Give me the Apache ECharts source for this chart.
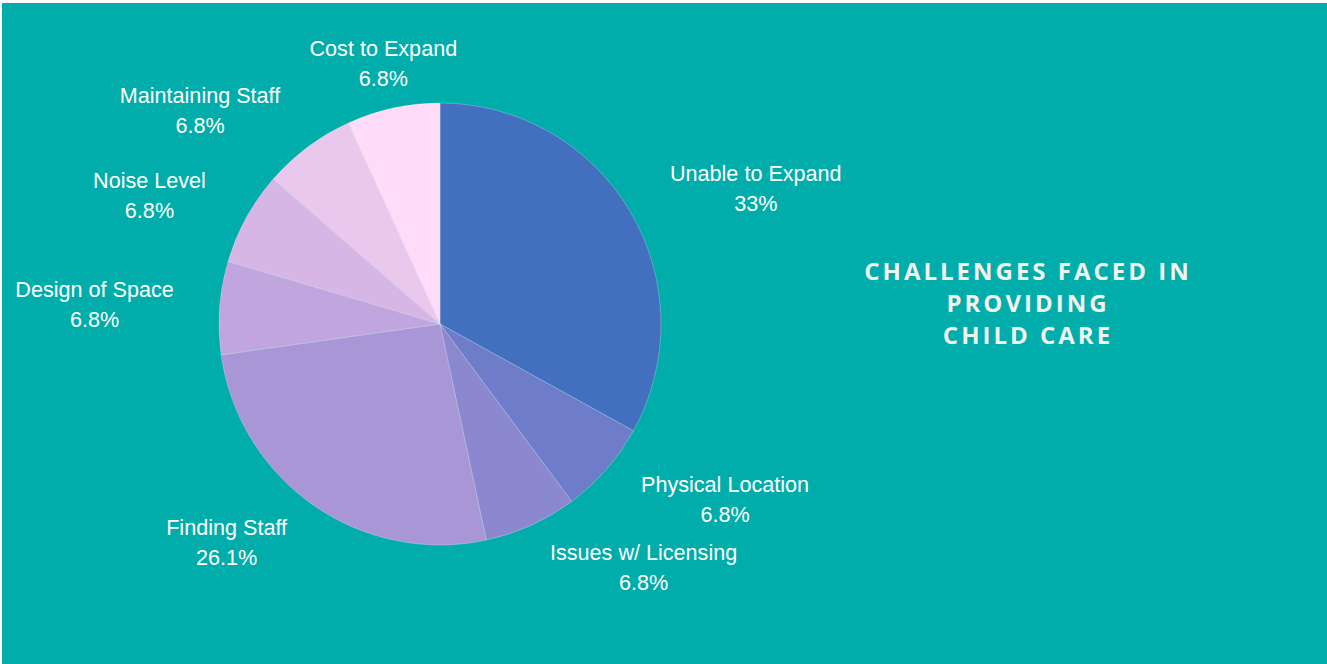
<!DOCTYPE html>
<html>
<head>
<meta charset="utf-8">
<title>Challenges Faced in Providing Child Care</title>
<script src="https://cdn.jsdelivr.net/npm/echarts@6/dist/echarts.min.js"></script>
<style>
  html, body { margin: 0; padding: 0; background: #ffffff; width: 1327px; height: 664px; overflow: hidden; }
  #chart { position: absolute; left: 2px; top: 3px; width: 1325px; height: 661px; }
</style>
</head>
<body>
<div id="chart"></div>
<script>
// Challenge categories, in clockwise order starting at 12 o'clock
const categories = [
  'Unable to Expand',
  'Physical Location',
  'Issues w/ Licensing',
  'Finding Staff',
  'Design of Space',
  'Noise Level',
  'Maintaining Staff',
  'Cost to Expand'
];

// Share of respondents (%) per challenge
const shares = [33, 6.8, 6.8, 26.1, 6.8, 6.8, 6.8, 6.8];

// Slice fills, from deep blue through lavender to pale pink
const sliceColors = [
  '#436FBF', '#6E7CC9', '#8C88D0', '#A996D6',
  '#C1A5DE', '#D7B6E5', '#EAC8EE', '#FEDBF8'
];

const titleLines = ['CHALLENGES FACED IN', 'PROVIDING', 'CHILD CARE'];

// mid-angle of each slice (radians, clockwise from 12 o'clock)
const totalShare = shares.reduce((a, b) => a + b, 0);
const midAngles = [];
shares.reduce((acc, v) => {
  midAngles.push((acc + v / 2) / totalShare * Math.PI * 2);
  return acc + v;
}, 0);

const chart = echarts.init(document.getElementById('chart'), null, { renderer: 'svg' });

chart.setOption({
  backgroundColor: '#00ADAA',
  animation: false,
  title: {
    text: titleLines.join('\n'),
    left: 1021,
    top: 246,
    textAlign: 'center',
    textStyle: {
      fontFamily: 'Open Sans',
      fontWeight: 'bold',
      fontSize: 24,
      lineHeight: 32,
      color: '#F2F2EE'
    }
  },
  series: [{
    type: 'pie',
    center: [438, 321],
    radius: 221,
    startAngle: 90,
    clockwise: true,
    avoidLabelOverlap: false,
    data: categories.map((name, i) => ({
      name: name,
      value: shares[i],
      itemStyle: { color: sliceColors[i] }
    })),
    itemStyle: {
      borderColor: 'rgba(255,255,255,0.25)',
      borderWidth: 1
    },
    label: {
      show: true,
      position: 'outside',
      formatter: '{b}\n{c}%',
      fontFamily: 'Liberation Sans, Arial, sans-serif',
      fontSize: 21.6,
      lineHeight: 30,
      color: '#FFFFFF',
      distanceToLabelLine: 0
    },
    labelLine: { show: false, length: 46, length2: 0 },
    // centre each label's lines on one another; labels near the top/bottom
    // are centred on their anchor point instead of hanging off to one side
    labelLayout: function (params) {
      const r = params.labelRect;
      const nearVertical = Math.abs(Math.sin(midAngles[params.dataIndex])) < 0.3;
      let x = r.x + r.width / 2;
      if (nearVertical) {
        x = params.align === 'right' ? r.x + r.width : r.x;
      }
      return {
        x: x,
        y: r.y + r.height / 2,
        align: 'center',
        verticalAlign: 'middle'
      };
    },
    emphasis: { disabled: true }
  }]
});

// widen the tracking of the heading text
function spaceHeading() {
  const texts = document.querySelectorAll('#chart text');
  texts.forEach(t => {
    if (titleLines.indexOf(t.textContent.trim()) >= 0) {
      t.style.letterSpacing = '3px';
    }
  });
}
chart.on('finished', spaceHeading);
spaceHeading();
setTimeout(spaceHeading, 50);
</script>
</body>
</html>
